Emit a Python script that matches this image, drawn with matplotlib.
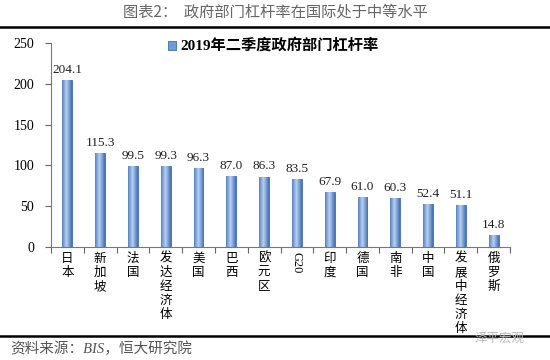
import matplotlib
matplotlib.use("Agg")
import matplotlib.pyplot as plt
import numpy as np
from matplotlib.colors import LinearSegmentedColormap

categories = ["日本", "新加坡", "法国", "发达经济体", "美国", "巴西", "欧元区", "G20",
              "印度", "德国", "南非", "中国", "发展中经济体", "俄罗斯"]
values = [204.1, 115.3, 99.5, 99.3, 96.3, 87.0, 86.3, 83.5, 67.9, 61.0, 60.3, 52.4, 51.1, 14.8]
series_name = "2019年二季度政府部门杠杆率"
title = "图表2：  政府部门杠杆率在国际处于中等水平"
source = "资料来源：BIS，恒大研究院"
yticks = [0, 50, 100, 150, 200, 250]

cjk = ["Noto Sans CJK SC", "DejaVu Sans"]
serif = ["Liberation Serif", "Noto Sans CJK SC"]

W, H = 550, 360
fig = plt.figure(figsize=(W / 100, H / 100), dpi=100)
ax = fig.add_axes([51 / W, 1 - 247 / H, (510 - 51) / W, (247 - 43) / H])

x = np.arange(len(categories))
bars = ax.bar(x, values, width=0.3, color="#6f9bd6", edgecolor="#3d6db4", linewidth=0.6, zorder=2)

grad = np.linspace(0, 1, 64)
grad = 1 - np.abs(grad - 0.45) * 1.6
grad = np.clip(grad, 0, 1)[None, :]
cmap = LinearSegmentedColormap.from_list("b", ["#3f6fb8", "#b9cfee"])
for b in bars:
    x0, y0 = b.get_x(), b.get_y()
    im = ax.imshow(grad, cmap=cmap, aspect="auto", extent=[x0, x0 + b.get_width(), y0, y0 + b.get_height()],
                   zorder=2.5, interpolation="bilinear")
    im.set_clip_path(b)

for xi, v in zip(x, values):
    ax.text(xi, v + 5, f"{v:.1f}", ha="center", va="bottom", fontsize=9.5, family=serif, color="#222222")

ax.set_xlim(-0.5, len(categories) - 0.5)
ax.set_ylim(0, 250)
ax.set_yticks(yticks)
ax.set_yticklabels([str(t) for t in yticks], family=serif, fontsize=10)
ax.set_xticks(np.arange(len(categories) + 1) - 0.5, minor=False)
ax.set_xticklabels([])
ax.tick_params(axis="x", direction="out", length=4, color="#666666")
ax.tick_params(axis="y", direction="out", length=4, color="#666666", pad=8)
for s in ["top", "right"]:
    ax.spines[s].set_visible(False)
ax.spines["left"].set_color("#777777")
ax.spines["bottom"].set_color("#777777")

for xi, c in zip(x, categories):
    if c == "G20":
        ax.text(xi, -6, c, rotation=270, ha="center", va="top", fontsize=9, family=serif, clip_on=False)
    else:
        ax.text(xi, -6, "\n".join(c), ha="center", va="top", fontsize=9, family=cjk,
                linespacing=1.1, clip_on=False)

fig.patches.append(plt.Rectangle((168 / W, 1 - 50 / H), 8 / W, 9 / H, transform=fig.transFigure,
                                 facecolor="#6f9bd6", edgecolor="#3d6db4", lw=0.6))
fig.text(180 / W, 1 - 45 / H, series_name, ha="left", va="center", fontsize=11, fontweight="bold",
         family=["Liberation Serif", "Noto Sans CJK SC"])

fig.text(0.5, 1 - 12 / H, title, ha="center", va="center", fontsize=11, color="#666666", family=cjk)
fig.add_artist(plt.Line2D([0, 1], [1 - 27 / H, 1 - 27 / H], color="black", lw=1.8, transform=fig.transFigure))
fig.add_artist(plt.Line2D([0, 1], [1 - 336 / H, 1 - 336 / H], color="black", lw=1.8, transform=fig.transFigure))
fig.text(10 / W, 1 - 349 / H, source, ha="left", va="center", fontsize=10.5, color="#555555",
         family=["Liberation Serif", "Noto Sans CJK SC"], style="italic")
fig.text(475 / W, 1 - 338 / H, "泽平宏观", ha="left", va="center", fontsize=9, color="#bbbbbb", family=cjk)

fig.savefig("out.png", dpi=100)
